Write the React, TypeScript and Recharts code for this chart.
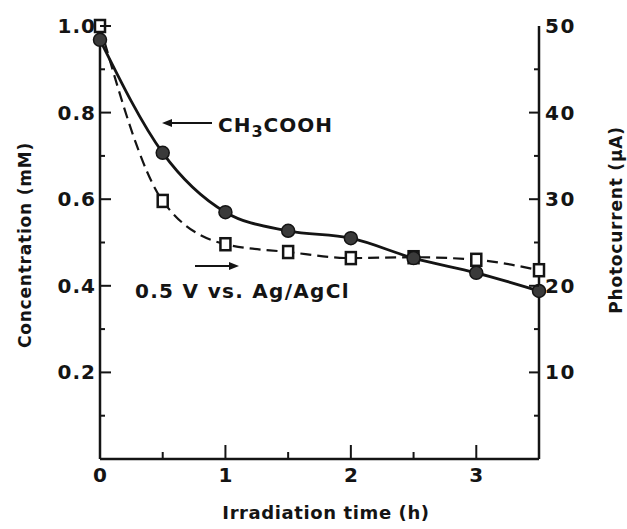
import React from 'react';
import { ComposedChart, Line, XAxis, YAxis } from 'recharts';

const times = [0, 0.5, 1, 1.5, 2, 2.5, 3, 3.5];
const concentration = [0.968, 0.707, 0.57, 0.527, 0.51, 0.464, 0.43, 0.388];
const photocurrent = [50, 29.8, 24.8, 23.9, 23.2, 23.3, 23.0, 21.8];

const xTicks = [0, 0.5, 1, 1.5, 2, 2.5, 3, 3.5];
const leftTicks = [0.1, 0.2, 0.3, 0.4, 0.5, 0.6, 0.7, 0.8, 0.9, 1.0];
const rightTicks = [5, 10, 15, 20, 25, 30, 35, 40, 45, 50];
const leftMajorLabels: Record<string, string> = { '0.2': '0.2', '0.4': '0.4', '0.6': '0.6', '0.8': '0.8', '1': '1.0' };
const rightMajorLabels: Record<string, string> = { '10': '10', '20': '20', '30': '30', '40': '40', '50': '50' };
const bottomLabels: Record<string, string> = { '0': '0', '1': '1', '2': '2', '3': '3' };

const data = times.map((t, i) => ({ t, conc: concentration[i], pc: photocurrent[i] }));

const INK = '#141414';
const FONT = '"DejaVu Sans", sans-serif';

const LeftTick = (props: any) => {
  const { x, y, payload } = props;
  const key = String(+payload.value.toFixed(1));
  const label = leftMajorLabels[key];
  const major = !!label;
  return (
    <g>
      <line x1={x} x2={x + (major ? 11 : 5)} y1={y} y2={y} stroke={INK} strokeWidth={2} />
      {major && (
        <text x={x - 4} y={y} dy={7} textAnchor="end" fontFamily={FONT} fontWeight="bold" fontSize={20} letterSpacing={1} fill={INK}>
          {label}
        </text>
      )}
    </g>
  );
};

const RightTick = (props: any) => {
  const { x, y, payload } = props;
  const key = String(payload.value);
  const label = rightMajorLabels[key];
  const major = !!label;
  return (
    <g>
      {payload.value !== 50 && (
        <line x1={x} x2={x - (major ? 10 : 5)} y1={y} y2={y} stroke={INK} strokeWidth={2} />
      )}
      {major && (
        <text x={x + 6} y={y} dy={7} textAnchor="start" fontFamily={FONT} fontWeight="bold" fontSize={20} letterSpacing={1.5} fill={INK}>
          {label}
        </text>
      )}
    </g>
  );
};

const BottomTick = (props: any) => {
  const { x, y, payload } = props;
  const v = payload.value;
  const label = bottomLabels[String(v)];
  const isInt = Number.isInteger(v);
  return (
    <g>
      {v > 0 && v < 3.5 && (
        <line x1={x} x2={x} y1={y} y2={y - (isInt ? 14 : 7)} stroke={INK} strokeWidth={2} />
      )}
      {label && (
        <text x={x} y={y} dy={23} textAnchor="middle" fontFamily={FONT} fontWeight="bold" fontSize={20} fill={INK}>
          {label}
        </text>
      )}
    </g>
  );
};

const TopTick = (props: any) => {
  const { x, y, payload } = props;
  const v = payload.value;
  const isInt = Number.isInteger(v);
  if (v <= 0 || v >= 3.5) return <g />;
  return (
    <g>
      <line x1={x} x2={x} y1={y} y2={y + (isInt ? 13 : 6)} stroke={INK} strokeWidth={2} />
    </g>
  );
};

const CircleDot = (props: any) => {
  const { cx, cy, index } = props;
  return <circle key={`c-${index}`} cx={cx} cy={cy} r={6.5} fill="#3a3a3a" stroke={INK} strokeWidth={1.5} />;
};

const SquareDot = (props: any) => {
  const { cx, cy, index } = props;
  return (
    <rect key={`s-${index}`} x={cx - 5} y={cy - 6} width={10} height={12} fill="#ffffff" stroke={INK} strokeWidth={2.5} />
  );
};

export default function App() {
  return (
    <div style={{ position: 'absolute', left: 0, top: 0, width: 627, height: 529, background: '#ffffff' }}>
      <ComposedChart
        width={627}
        height={529}
        data={data}
        margin={{ top: 26, right: 28, bottom: 40, left: 40 }}
      >
        <XAxis
          dataKey="t"
          type="number"
          domain={[0, 3.5]}
          ticks={xTicks}
          interval={0}
          height={30}
          tickSize={0}
          tickMargin={0}
          tickLine={false}
          axisLine={{ stroke: INK, strokeWidth: 2.5 }}
          tick={<BottomTick />}
        />
        <XAxis
          xAxisId="top"
          dataKey="t"
          type="number"
          orientation="top"
          domain={[0, 3.5]}
          ticks={xTicks}
          interval={0}
          height={0}
          tickSize={0}
          tickMargin={0}
          tickLine={false}
          axisLine={{ stroke: INK, strokeWidth: 2.5 }}
          tick={<TopTick />}
        />
        <YAxis
          yAxisId="left"
          type="number"
          domain={[0, 1]}
          ticks={leftTicks}
          interval={0}
          width={60}
          tickSize={0}
          tickMargin={0}
          tickLine={false}
          axisLine={{ stroke: INK, strokeWidth: 2.5 }}
          tick={<LeftTick />}
        />
        <YAxis
          yAxisId="right"
          orientation="right"
          type="number"
          domain={[0, 50]}
          ticks={rightTicks}
          interval={0}
          width={60}
          tickSize={0}
          tickMargin={0}
          tickLine={false}
          axisLine={{ stroke: INK, strokeWidth: 2.5 }}
          tick={<RightTick />}
        />
        <Line
          yAxisId="right"
          type="monotone"
          dataKey="pc"
          stroke={INK}
          strokeWidth={2.2}
          strokeDasharray="11 6"
          dot={SquareDot}
          activeDot={false}
          isAnimationActive={false}
        />
        <Line
          yAxisId="left"
          type="monotone"
          dataKey="conc"
          stroke={INK}
          strokeWidth={2.8}
          dot={CircleDot}
          activeDot={false}
          isAnimationActive={false}
        />
        <g>
          <line x1={166} x2={212} y1={123} y2={123} stroke={INK} strokeWidth={2} />
          <polygon points="162,123 172,119 172,127" fill={INK} />
          <text x={218} y={132} fontFamily={FONT} fontWeight="bold" fontSize={20} letterSpacing={1} fill={INK}>
            CH
            <tspan dy={5} fontSize={16}>3</tspan>
            <tspan dy={-5}>COOH</tspan>
          </text>
          <line x1={195} x2={234} y1={266} y2={266} stroke={INK} strokeWidth={2} />
          <polygon points="239,266 229,262 229,270" fill={INK} />
          <text x={135} y={298} fontFamily={FONT} fontWeight="bold" fontSize={20} letterSpacing={1.3} fill={INK}>
            0.5 V vs. Ag/AgCl
          </text>
          <text x={326} y={519} textAnchor="middle" fontFamily={FONT} fontWeight="bold" fontSize={18} letterSpacing={0.6} fill={INK}>
            Irradiation time (h)
          </text>
          <text
            x={31}
            y={245}
            textAnchor="middle"
            transform="rotate(-90 31 245)"
            fontFamily={FONT}
            fontWeight="bold"
            fontSize={17}
            letterSpacing={0.8}
            fill={INK}
          >
            Concentration (mM)
          </text>
          <text
            x={622}
            y={220}
            textAnchor="middle"
            transform="rotate(-90 622 220)"
            fontFamily={FONT}
            fontWeight="bold"
            fontSize={17}
            letterSpacing={0.8}
            fill={INK}
          >
            Photocurrent (μA)
          </text>
        </g>
      </ComposedChart>
    </div>
  );
}
